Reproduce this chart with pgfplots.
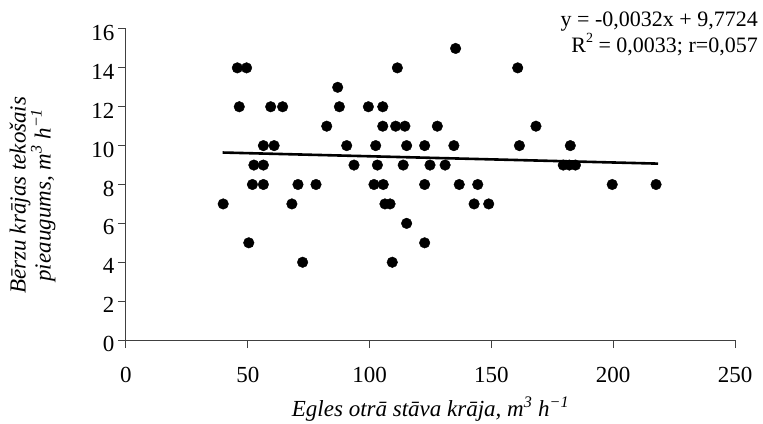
\documentclass[border=0pt]{standalone}
\usepackage{fontspec}
\setmainfont{Liberation Serif}
\usepackage{pgfplots}
\pgfplotsset{compat=1.18}
\begin{document}
\begin{tikzpicture}
\begin{axis}[
  name=ax,
  scale only axis, width=609bp, height=311bp,
  xmin=0, xmax=250, ymin=0, ymax=16,
  axis x line*=bottom, axis y line*=left,
  x axis line style={-}, y axis line style={-},
  axis line style={black!75, line width=1bp},
  xtick={0,50,...,250}, ytick={0,2,...,16},
  tick align=outside, major tick length=8bp,
  tick style={black!75, line width=1bp},
  /pgf/number format/assume math mode=true,
  tick label style={font=\fontsize{23bp}{26bp}\selectfont},
  yticklabel style={yshift=-4bp},
  xticklabel style={yshift=-15.5bp},
  xlabel={Egles otrā stāva krāja, m\textsuperscript{3} h\textsuperscript{−1}},
  xlabel style={font=\fontsize{23bp}{26bp}\selectfont\itshape, at={(axis description cs:0.5,0)}, anchor=base, yshift=-76bp},
  ylabel={Bērzu krājas tekošais\\pieaugums, m\textsuperscript{3} h\textsuperscript{−1}},
  ylabel style={font=\fontsize{23bp}{25bp}\selectfont\itshape, align=center, at={(axis description cs:-0.1535,0.466)}, anchor=center},
  clip=false,
]
\addplot[only marks, mark=*, mark size=5.3bp, mark options={fill=black, draw=black}] coordinates {
(45.7,14) (49.5,14) (111.4,14) (160.8,14)
(135.3,15)
(86.9,13)
(46.5,12) (59.4,12) (64.3,12) (87.6,12) (99.5,12) (105.4,12)
(82.4,11) (105.4,11) (110.7,11) (114.5,11) (127.8,11) (168.3,11)
(56.4,10) (60.8,10) (90.6,10) (102.5,10) (115.2,10) (122.6,10) (134.6,10) (161.5,10) (182.4,10)
(52.5,9) (56.4,9) (93.6,9) (103.2,9) (113.8,9) (124.8,9) (131.0,9) (179.5,9) (182.0,9) (184.5,9)
(51.9,8) (56.4,8) (70.6,8) (78.0,8) (101.8,8) (105.6,8) (122.6,8) (136.8,8) (144.4,8) (199.6,8) (217.6,8)
(39.9,7) (68.1,7) (106.3,7) (108.4,7) (142.9,7) (148.9,7)
(115.2,6)
(50.4,5) (122.6,5)
(72.5,4) (109.3,4)
};
\addplot[black, line width=2.6bp] coordinates {(39.7,9.645) (218.4,9.074)};
\end{axis}
\node[anchor=base east, inner sep=0pt, font=\fontsize{22bp}{25bp}\selectfont] at ([xshift=632bp,yshift=313bp]ax.south west) {y = -0,0032x + 9,7724};
\node[anchor=base east, inner sep=0pt, font=\fontsize{22bp}{25bp}\selectfont] at ([xshift=632bp,yshift=287bp]ax.south west) {R\raisebox{0.48em}{\fontsize{14bp}{14bp}\selectfont 2} = 0,0033; r=0,057};
\pgfresetboundingbox
\path ([xshift=-126bp,yshift=-84bp]ax.south west) rectangle ++(763bp,424bp);
\end{tikzpicture}
\end{document}
